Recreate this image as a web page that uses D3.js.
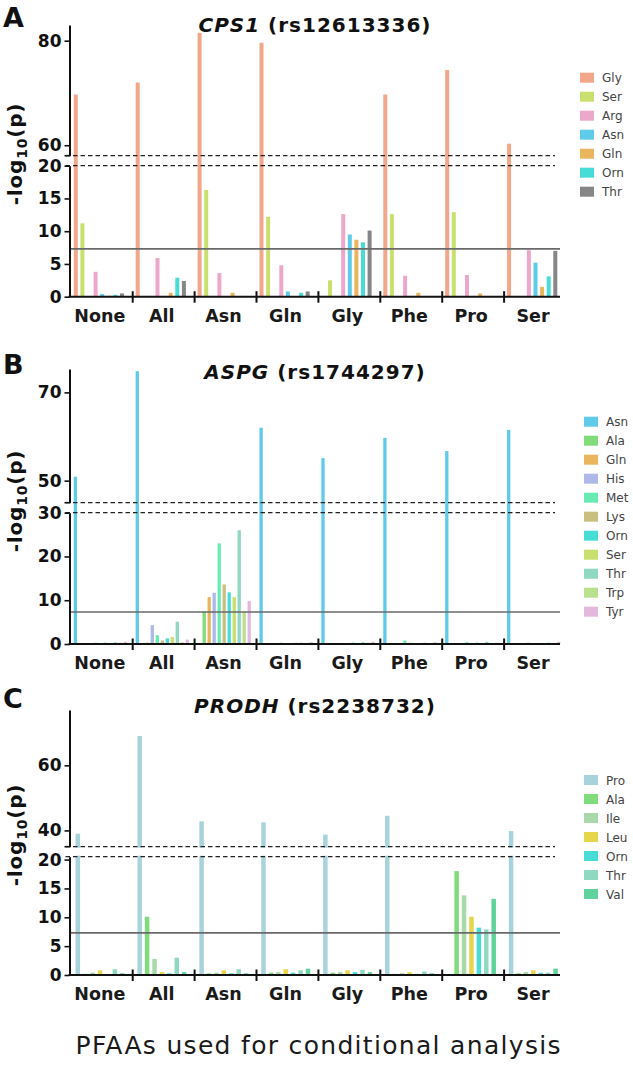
<!DOCTYPE html>
<html><head><meta charset="utf-8">
<script src="https://cdn.jsdelivr.net/npm/d3@7"></script>
<style>
body{margin:0;background:#fff}
svg{display:block}
text{font-family:"DejaVu Sans",Verdana,sans-serif}
</style>
</head><body>
<svg id="chart" width="633" height="1071"></svg>
<script>
// ---------- data ----------
const groups = ["None","All","Asn","Gln","Gly","Phe","Pro","Ser"];
const threshold = 7.3;

// Panel A: CPS1 (rs12613336)
const seriesA = ["Gly","Ser","Arg","Asn","Gln","Orn","Thr"];
const slotsA  = ["Gly","Ser","_","Arg","Asn","Gln","Orn","Thr"];
const colorsA = ["#F2A68A","#C9E06E","#EDA7CB","#5FCBE9","#E9B65E","#47DDD6","#868686"];
const valuesA = [
  [69.7, 72.0, 81.5, 79.6, null, 69.7, 74.4, 60.3],  // Gly
  [11.2, null, 16.3, 12.2, 2.5, 12.6, 12.9, null],   // Ser
  [3.8, 5.9, 3.6, 4.8, 12.6, 3.2, 3.3, 7.1],         // Arg
  [0.4, 0.1, null, 0.8, 9.5, null, null, 5.2],       // Asn
  [0.15, 0.6, 0.6, null, 8.7, 0.6, 0.5, 1.5],        // Gln
  [0.3, 2.9, 0.1, 0.6, 8.3, null, null, 3.1],        // Orn
  [0.5, 2.4, 0.1, 0.8, 10.1, null, null, 7.0]        // Thr
];
const ticksAUpper = [60, 80];
const ticksALower = [0, 5, 10, 15, 20];

// Panel B: ASPG (rs1744297)
const seriesB = ["Asn","Ala","Gln","His","Met","Lys","Orn","Ser","Thr","Trp","Tyr"];
const colorsB = ["#5FCBE9","#80DC7A","#E9B65E","#AEB9EA","#68EBB2","#C9BF80","#47DDD6","#C9E06E","#8FD8C2","#B9E08C","#E2B9DD"];
const valuesB = [
  [50.9, 74.8, null, 62.0, 55.1, 59.7, 56.7, 61.5],  // Asn
  [0.1, 0.1, 7.4, 0.1, 0.1, 0.1, 0.1, 0.1],          // Ala
  [0.2, 0.3, 10.7, null, 0.2, 0.2, 0.1, 0.2],        // Gln
  [0.1, 4.3, 11.7, 0.1, 0.1, 0.1, 0.2, 0.1],         // His
  [0.3, 2.0, 23.0, 0.3, 0.2, 0.8, 0.4, 0.3],         // Met
  [0.2, 0.8, 13.6, 0.2, 0.2, 0.3, 0.2, 0.1],         // Lys
  [0.3, 1.3, 11.8, 0.2, 0.3, 0.2, 0.3, 0.2],         // Orn
  [0.2, 1.6, 10.7, 0.3, 0.2, 0.2, 0.2, null],        // Ser
  [0.4, 5.1, 26.0, 0.3, 0.4, 0.3, 0.5, 0.3],         // Thr
  [0.3, 0.4, 7.4, 0.2, 0.3, 0.2, 0.2, 0.2],          // Trp
  [0.5, 1.0, 9.8, 0.4, 0.5, 0.4, 0.3, 0.5]           // Tyr
];
const ticksBUpper = [50, 70];
const ticksBLower = [0, 10, 20, 30];

// Panel C: PRODH (rs2238732)
const seriesC = ["Pro","Ala","Ile","Leu","Orn","Thr","Val"];
const colorsC = ["#A9D3DC","#80DC7A","#A9D8A9","#E6D64C","#47DDD6","#8FD8C2","#5FD39B"];
const valuesC = [
  [39.0, 69.0, 42.8, 42.5, 38.7, 44.5, null, 39.8],  // Pro
  [0.2, 10.1, 0.3, 0.4, 0.4, 0.2, 18.0, 0.3],        // Ala
  [0.4, 2.8, 0.4, 0.5, 0.5, 0.3, 13.8, 0.5],         // Ile
  [0.8, 0.5, 0.8, 1.0, 0.8, 0.5, 10.1, 0.8],         // Leu
  [0.1, 0.3, 0.3, 0.4, 0.5, 0.2, 8.2, 0.4],          // Orn
  [1.0, 3.0, 1.0, 0.8, 0.9, 0.6, 7.9, 0.4],          // Thr
  [0.3, 0.5, 0.3, 1.1, 0.5, 0.3, 13.2, 1.1]          // Val
];
const ticksCUpper = [40, 60];
const ticksCLower = [0, 5, 10, 15, 20];

const xLabel = "PFAAs used for conditional analysis";

// ---------- drawing ----------
const svg = d3.select("#chart");
const axisX = 69.5, plotLeft = 70.8, plotRight = 566, lineEnd = 560, dashEnd = 555;
const x0 = d3.scaleBand().domain(groups).range([plotLeft, plotRight]);

function drawPanel(c) {
  const g = svg.append("g");
  const x1 = d3.scalePoint().domain(c.slots).range(c.slotRange);
  const yLo = d3.scaleLinear().domain(c.lowDomain).range([c.bottom, c.brkLo]);
  const yHi = d3.scaleLinear().domain(c.highDomain).range([c.brkHi, c.top]);
  const yv = v => v > c.lowDomain[1] ? yHi(v) : yLo(v);

  // bars
  c.series.forEach((s, si) => {
    const data = groups.map((gn, gi) => ({g: gn, v: c.values[si][gi]})).filter(d => d.v != null);
    g.append("g").selectAll("rect").data(data).enter().append("rect")
      .attr("x", d => x0(d.g) + x1(s) - c.barW / 2)
      .attr("y", d => yv(d.v))
      .attr("width", c.barW)
      .attr("height", d => c.bottom - yv(d.v))
      .attr("fill", c.colors[si]);
  });
  if (c.gap) {
    g.append("rect").attr("x", plotLeft).attr("y", c.brkHi + 1)
      .attr("width", lineEnd - plotLeft).attr("height", c.brkLo - c.brkHi - 2).attr("fill", "#fff");
  }
  // threshold line
  g.append("line").attr("x1", axisX).attr("x2", lineEnd)
    .attr("y1", yLo(threshold)).attr("y2", yLo(threshold))
    .attr("stroke", "#6a6a6a").attr("stroke-width", 1.6);
  // dashed break lines
  [c.brkHi, c.brkLo].forEach(yy => {
    g.append("line").attr("x1", axisX - 4).attr("x2", dashEnd).attr("y1", yy).attr("y2", yy)
      .attr("stroke", "#222").attr("stroke-width", 1.3).attr("stroke-dasharray", "4.5,3");
  });
  // y axes
  const styleAxis = sel => {
    sel.select(".domain").attr("stroke", "#111").attr("stroke-width", 2);
    sel.selectAll(".tick line").attr("stroke", "#111").attr("stroke-width", 1.6);
    sel.selectAll(".tick text").attr("font-family", "DejaVu Sans, Verdana, sans-serif")
      .attr("font-size", 17).attr("font-weight", "bold").attr("fill", "#111");
  };
  g.append("g").attr("transform", `translate(${axisX},0)`)
    .call(d3.axisLeft(yLo).tickValues(c.lowTicks).tickSize(5).tickSizeOuter(0).tickPadding(3))
    .call(styleAxis);
  g.append("g").attr("transform", `translate(${axisX},0)`)
    .call(d3.axisLeft(yHi).tickValues(c.highTicks).tickSize(5).tickSizeOuter(0).tickPadding(3))
    .call(styleAxis);
  // caps at the break
  g.append("line").attr("x1", axisX - 5).attr("x2", axisX).attr("y1", c.brkHi).attr("y2", c.brkHi)
    .attr("stroke", "#111").attr("stroke-width", 1.6);
  // x axis
  g.append("line").attr("x1", axisX - 1).attr("x2", lineEnd).attr("y1", c.bottom).attr("y2", c.bottom)
    .attr("stroke", "#111").attr("stroke-width", 2);
  g.append("g").selectAll("line").data(groups.slice(1)).enter().append("line")
    .attr("x1", d => x0(d)).attr("x2", d => x0(d))
    .attr("y1", c.bottom - 5.5).attr("y2", c.bottom + 6)
    .attr("stroke", "#111").attr("stroke-width", 2);
  g.append("g").selectAll("text").data(groups).enter().append("text")
    .attr("x", d => x0(d) + x0.bandwidth() / 2 - 2)
    .attr("y", c.bottom + 25)
    .attr("text-anchor", "middle").attr("font-size", 17.5).attr("font-weight", "bold").attr("fill", "#1a1a1a")
    .text(d => d);
  // y label
  const yl = g.append("text")
    .attr("transform", `translate(22,${c.yLabelY}) rotate(-90)`)
    .attr("text-anchor", "middle").attr("font-size", 20).attr("font-weight", "bold")
    .attr("letter-spacing", 0.8).attr("fill", "#111");
  yl.append("tspan").text("-log");
  yl.append("tspan").attr("font-size", 14).attr("dy", 5).text("10");
  yl.append("tspan").attr("dy", -5).text("(p)");
  // panel letter
  g.append("text").attr("x", 3).attr("y", c.letterY).attr("font-size", 27).attr("font-weight", "bold")
    .attr("fill", "#111").text(c.letter);
  // title
  const t = g.append("text").attr("x", 315).attr("y", c.titleY).attr("text-anchor", "middle")
    .attr("font-size", 20).attr("font-weight", "bold").attr("letter-spacing", 1).attr("fill", "#111");
  t.append("tspan").attr("font-style", "italic").text(c.gene);
  t.append("tspan").text(" " + c.snp);
  // legend
  const lg = g.append("g").selectAll("g").data(c.series).enter().append("g")
    .attr("transform", (d, i) => `translate(${c.legendX},${c.legendY + i * 19})`);
  lg.append("rect").attr("x", 0).attr("y", -5).attr("width", 14).attr("height", 10)
    .attr("fill", (d, i) => c.colors[i]);
  lg.append("text").attr("x", 22).attr("y", 4.5).attr("font-size", 12).attr("fill", "#444").text(d => d);
}

drawPanel({
  letter: "A", gene: "CPS1", snp: "(rs12613336)", letterY: 27, titleY: 32,
  series: seriesA, slots: slotsA, colors: colorsA, values: valuesA,
  slotRange: [5, 51.2], barW: 4,
  top: 25, brkHi: 155.7, brkLo: 165.7, bottom: 296.7,
  highDomain: [58, 83], lowDomain: [0, 20],
  highTicks: ticksAUpper, lowTicks: ticksALower,
  yLabelY: 154, legendX: 580, legendY: 77.7, gap: false
});
drawPanel({
  letter: "B", gene: "ASPG", snp: "(rs1744297)", letterY: 374, titleY: 379,
  series: seriesB, slots: seriesB, colors: colorsB, values: valuesB,
  slotRange: [4.6, 54.6], barW: 3.3,
  top: 369, brkHi: 502.7, brkLo: 512.7, bottom: 644,
  highDomain: [45, 75.3], lowDomain: [0, 30],
  highTicks: ticksBUpper, lowTicks: ticksBLower,
  yLabelY: 501, legendX: 584, legendY: 421.7, gap: false
});
drawPanel({
  letter: "C", gene: "PRODH", snp: "(rs2238732)", letterY: 708, titleY: 713,
  series: seriesC, slots: seriesC, colors: colorsC, values: valuesC,
  slotRange: [7, 51.5], barW: 4.5,
  top: 710, brkHi: 846.7, brkLo: 856.7, bottom: 975,
  highDomain: [35, 77], lowDomain: [0, 20.5],
  highTicks: ticksCUpper, lowTicks: ticksCLower,
  yLabelY: 835, legendX: 584, legendY: 780, gap: true
});

svg.append("text").attr("x", 318).attr("y", 1054).attr("text-anchor", "middle")
  .attr("font-size", 25).attr("textLength", 485).attr("lengthAdjust", "spacing")
  .attr("fill", "#1a1a1a").text(xLabel);
</script>
</body></html>
